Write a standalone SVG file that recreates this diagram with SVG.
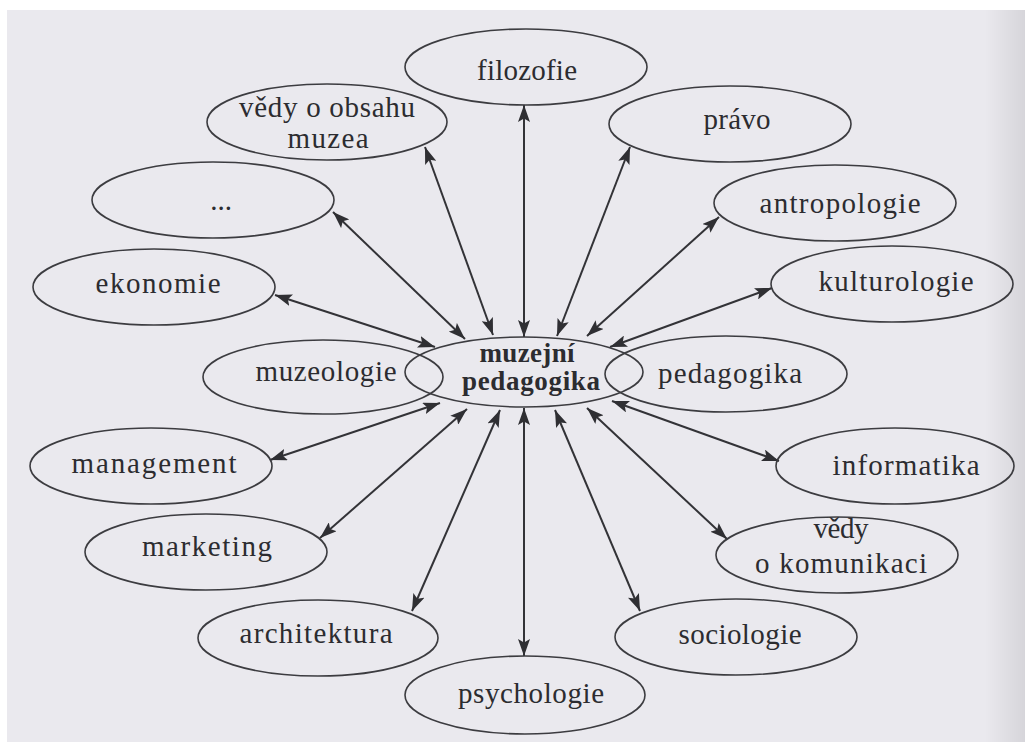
<svg xmlns="http://www.w3.org/2000/svg" width="1025" height="742" viewBox="0 0 1025 742">
  <defs>
    <linearGradient id="edge" x1="0" y1="0" x2="1" y2="0">
      <stop offset="0" stop-color="#eae9ee"/>
      <stop offset="1" stop-color="#d6d5da"/>
    </linearGradient>
    <marker id="ah" viewBox="0 0 17 12" markerWidth="17" markerHeight="12" refX="17" refY="6" markerUnits="userSpaceOnUse" orient="auto-start-reverse">
      <path d="M0,0 L17,6 L0,12 L3.5,6 Z" fill="#2f2f33"/>
    </marker>
    <style>
      .node ellipse { fill: none; stroke: #3c3c40; stroke-width: 1.6; }
      .node text { font-family: "Liberation Serif", "DejaVu Serif", serif; font-size: 29px; fill: #2c2c30; text-anchor: middle; }
      .node text.bold { font-weight: bold; font-size: 27px; }
      #connectors line { stroke: #333337; stroke-width: 2; marker-start: url(#ah); marker-end: url(#ah); }
    </style>
  </defs>

  <rect x="0" y="0" width="1025" height="742" fill="#ffffff"/>
  <rect x="7" y="10" width="1018" height="732" fill="#eae9ee"/>
  <rect x="985" y="10" width="40" height="732" fill="url(#edge)"/>

  <g id="connectors">
    <line x1="524" y1="105" x2="524" y2="337"/>
    <line x1="425" y1="147" x2="493" y2="335"/>
    <line x1="333" y1="212" x2="465" y2="339"/>
    <line x1="275" y1="295" x2="435" y2="347"/>
    <line x1="630" y1="147" x2="557" y2="336"/>
    <line x1="719" y1="217" x2="587" y2="336"/>
    <line x1="772" y1="288" x2="610" y2="347"/>
    <line x1="270" y1="460" x2="440" y2="403"/>
    <line x1="320" y1="538" x2="467" y2="409"/>
    <line x1="412" y1="611" x2="500" y2="410"/>
    <line x1="524" y1="656" x2="524" y2="408"/>
    <line x1="640" y1="611" x2="555" y2="410"/>
    <line x1="727" y1="539" x2="587" y2="408"/>
    <line x1="779" y1="461" x2="612" y2="401"/>
  </g>

  <g id="node-center" class="node">
    <ellipse cx="524" cy="372" rx="119" ry="35"/>
    <text class="bold" x="527" y="362" textLength="95" lengthAdjust="spacing">muzejní</text>
    <text class="bold" x="531" y="390" textLength="138" lengthAdjust="spacing">pedagogika</text>
  </g>
  <g id="node-filozofie" class="node">
    <ellipse cx="526" cy="67" rx="121" ry="38"/>
    <text x="527" y="80" textLength="100" lengthAdjust="spacing">filozofie</text>
  </g>
  <g id="node-vedy-obsahu" class="node">
    <ellipse cx="327" cy="122" rx="120" ry="38"/>
    <text x="327" y="117" textLength="176" lengthAdjust="spacing">vědy o obsahu</text>
    <text x="328" y="148" textLength="81" lengthAdjust="spacing">muzea</text>
  </g>
  <g id="node-dots" class="node">
    <ellipse cx="213" cy="200" rx="121" ry="38"/>
    <text x="221" y="210">...</text>
  </g>
  <g id="node-ekonomie" class="node">
    <ellipse cx="154" cy="287" rx="121" ry="38"/>
    <text x="158" y="293" textLength="125" lengthAdjust="spacing">ekonomie</text>
  </g>
  <g id="node-muzeologie" class="node">
    <ellipse cx="323" cy="377" rx="120" ry="37"/>
    <text x="326" y="381" textLength="141" lengthAdjust="spacing">muzeologie</text>
  </g>
  <g id="node-pravo" class="node">
    <ellipse cx="730" cy="124" rx="121" ry="38"/>
    <text x="737" y="129" textLength="67" lengthAdjust="spacing">právo</text>
  </g>
  <g id="node-antropologie" class="node">
    <ellipse cx="835" cy="203" rx="121" ry="38"/>
    <text x="840" y="213" textLength="161" lengthAdjust="spacing">antropologie</text>
  </g>
  <g id="node-kulturologie" class="node">
    <ellipse cx="892" cy="284" rx="121" ry="38"/>
    <text x="896" y="291" textLength="155" lengthAdjust="spacing">kulturologie</text>
  </g>
  <g id="node-pedagogika" class="node">
    <ellipse cx="726" cy="374" rx="121" ry="38"/>
    <text x="730" y="383" textLength="144" lengthAdjust="spacing">pedagogika</text>
  </g>
  <g id="node-management" class="node">
    <ellipse cx="151" cy="466" rx="121" ry="38"/>
    <text x="154" y="473" textLength="165" lengthAdjust="spacing">management</text>
  </g>
  <g id="node-marketing" class="node">
    <ellipse cx="206" cy="552" rx="121" ry="38"/>
    <text x="207" y="556" textLength="130" lengthAdjust="spacing">marketing</text>
  </g>
  <g id="node-architektura" class="node">
    <ellipse cx="318" cy="638" rx="120" ry="38"/>
    <text x="316" y="643" textLength="153" lengthAdjust="spacing">architektura</text>
  </g>
  <g id="node-psychologie" class="node">
    <ellipse cx="525" cy="695" rx="120" ry="39"/>
    <text x="531" y="703" textLength="146" lengthAdjust="spacing">psychologie</text>
  </g>
  <g id="node-sociologie" class="node">
    <ellipse cx="736" cy="637" rx="121" ry="38"/>
    <text x="740" y="644" textLength="123" lengthAdjust="spacing">sociologie</text>
  </g>
  <g id="node-vedy-komunikaci" class="node">
    <ellipse cx="837" cy="555" rx="121" ry="38"/>
    <text x="841" y="538" textLength="55" lengthAdjust="spacing">vědy</text>
    <text x="841" y="573" textLength="172" lengthAdjust="spacing">o komunikaci</text>
  </g>
  <g id="node-informatika" class="node">
    <ellipse cx="895" cy="466" rx="119" ry="38"/>
    <text x="906" y="475" textLength="147" lengthAdjust="spacing">informatika</text>
  </g>
</svg>
